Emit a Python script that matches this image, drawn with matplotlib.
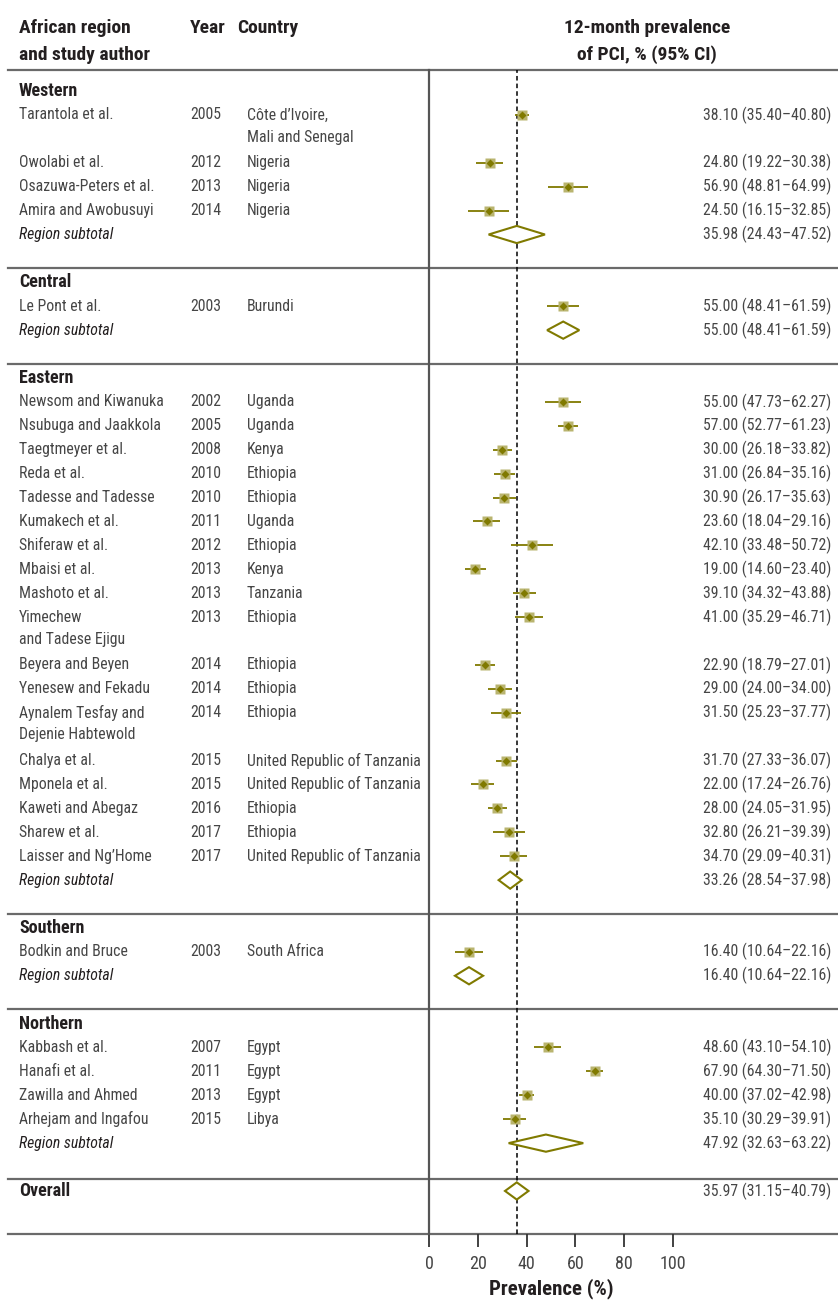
import matplotlib
matplotlib.use('Agg')
import matplotlib.pyplot as plt
from matplotlib import font_manager
from matplotlib.transforms import blended_transform_factory

# ---- data ----
regions = ['Western', 'Central', 'Eastern', 'Southern', 'Northern']

study_region = ['Western'] * 4 + ['Central'] + ['Eastern'] * 18 + ['Southern'] + ['Northern'] * 4
authors = [
    'Tarantola et al.', 'Owolabi et al.', 'Osazuwa-Peters et al.', 'Amira and Awobusuyi',
    'Le Pont et al.',
    'Newsom and Kiwanuka', 'Nsubuga and Jaakkola', 'Taegtmeyer et al.', 'Reda et al.',
    'Tadesse and Tadesse', 'Kumakech et al.', 'Shiferaw et al.', 'Mbaisi et al.',
    'Mashoto et al.', 'Yimechew\nand Tadese Ejigu', 'Beyera and Beyen', 'Yenesew and Fekadu',
    'Aynalem Tesfay and\nDejenie Habtewold', 'Chalya et al.', 'Mponela et al.',
    'Kaweti and Abegaz', 'Sharew et al.', 'Laisser and Ng\u2019Home',
    'Bodkin and Bruce',
    'Kabbash et al.', 'Hanafi et al.', 'Zawilla and Ahmed', 'Arhejam and Ingafou',
]
years = [2005, 2012, 2013, 2014,
         2003,
         2002, 2005, 2008, 2010, 2010, 2011, 2012, 2013, 2013, 2013, 2014, 2014, 2014,
         2015, 2015, 2016, 2017, 2017,
         2003,
         2007, 2011, 2013, 2015]
countries = [
    'C\u00f4te d\u2019Ivoire,\nMali and Senegal', 'Nigeria', 'Nigeria', 'Nigeria',
    'Burundi',
    'Uganda', 'Uganda', 'Kenya', 'Ethiopia', 'Ethiopia', 'Uganda', 'Ethiopia', 'Kenya',
    'Tanzania', 'Ethiopia', 'Ethiopia', 'Ethiopia', 'Ethiopia',
    'United Republic of Tanzania', 'United Republic of Tanzania', 'Ethiopia', 'Ethiopia',
    'United Republic of Tanzania',
    'South Africa',
    'Egypt', 'Egypt', 'Egypt', 'Libya',
]
est = [38.10, 24.80, 56.90, 24.50,
       55.00,
       55.00, 57.00, 30.00, 31.00, 30.90, 23.60, 42.10, 19.00, 39.10, 41.00, 22.90, 29.00,
       31.50, 31.70, 22.00, 28.00, 32.80, 34.70,
       16.40,
       48.60, 67.90, 40.00, 35.10]
lo = [35.40, 19.22, 48.81, 16.15,
      48.41,
      47.73, 52.77, 26.18, 26.84, 26.17, 18.04, 33.48, 14.60, 34.32, 35.29, 18.79, 24.00,
      25.23, 27.33, 17.24, 24.05, 26.21, 29.09,
      10.64,
      43.10, 64.30, 37.02, 30.29]
hi = [40.80, 30.38, 64.99, 32.85,
      61.59,
      62.27, 61.23, 33.82, 35.16, 35.63, 29.16, 50.72, 23.40, 43.88, 46.71, 27.01, 34.00,
      37.77, 36.07, 26.76, 31.95, 39.39, 40.31,
      22.16,
      54.10, 71.50, 42.98, 39.91]

sub_est = [35.98, 55.00, 33.26, 16.40, 47.92]
sub_lo = [24.43, 48.41, 28.54, 10.64, 32.63]
sub_hi = [47.52, 61.59, 37.98, 22.16, 63.22]

overall_est, overall_lo, overall_hi = 35.97, 31.15, 40.79

xticks = [0, 20, 40, 60, 80, 100]

# ---- font ----
available = {f.name for f in font_manager.fontManager.ttflist}
family = 'DejaVu Sans'
for cand in ['Liberation Sans Narrow', 'Roboto Condensed', 'Open Sans Condensed']:
    if cand in available:
        family = cand
        break
plt.rcParams['font.family'] = [family, 'DejaVu Sans']
if family == 'DejaVu Sans':
    plt.rcParams['font.stretch'] = 'condensed'

olive = '#807a00'
square_fc = '#b9b46f'
text_c = '#464646'
head_c = '#231f20'
rule_c = '#6a6a6a'

fig = plt.figure(figsize=(8.38, 13), dpi=100)
ax = fig.add_axes([429 / 838, 1 - 1234 / 1300, 409 / 838, (1234 - 70) / 1300])
ax.set_xlim(0, 409 / 2.44)
ax.set_ylim(47.8, -0.88)
trans = blended_transform_factory(fig.transFigure, ax.transData)

x_auth, x_year, x_country, x_val = 19 / 838, 190 / 838, 247 / 838, 831 / 838
fs = 11.3
line_gap = 0.93


def col_text(x, y, s, size=fs, color=text_c, weight='normal', style='normal'):
    for k, part in enumerate(str(s).split('\n')):
        ax.text(x, y + k * line_gap, part, transform=trans, va='center', ha='left',
                fontsize=size, color=color, fontweight=weight, fontstyle=style)


def val_text(y, e, l, h):
    ax.text(x_val, y, f'{e:.2f} ({l:.2f}\u2013{h:.2f})', transform=trans, ha='right', va='center',
            fontsize=fs, color=text_c)


def rule(y):
    ax.plot([0.010, 1], [y, y], transform=trans, color=rule_c, lw=1.6, clip_on=False, zorder=1)


def summary_diamond(y, e, l, h, half=0.36):
    ax.fill([l, e, h, e, l], [y, y - half, y, y + half, y], facecolor='white', edgecolor=olive,
            lw=1.5, zorder=4)


# ---- rows ----
row = 0
for r_i, reg in enumerate(regions):
    if r_i > 0:
        rule(row - 0.6)
    col_text(x_auth, row, reg, size=13, color=head_c, weight='bold')
    row += 1
    for i in range(len(authors)):
        if study_region[i] != reg:
            continue
        col_text(x_auth, row, authors[i])
        col_text(x_year, row, years[i])
        col_text(x_country, row, countries[i])
        val_text(row, est[i], lo[i], hi[i])
        ax.plot([lo[i], hi[i]], [row, row], color=olive, lw=1.3, zorder=3, solid_capstyle='butt')
        ax.plot(est[i], row, 's', ms=7.5, color=square_fc, mec='none', zorder=4)
        ax.plot(est[i], row, 'D', ms=4, color=olive, mec='none', zorder=5)
        row += max(str(authors[i]).count('\n'), str(countries[i]).count('\n')) + 1
    col_text(x_auth, row, 'Region subtotal', color=head_c, style='italic')
    val_text(row, sub_est[r_i], sub_lo[r_i], sub_hi[r_i])
    summary_diamond(row, sub_est[r_i], sub_lo[r_i], sub_hi[r_i])
    row += 2

rule(row - 0.5)
col_text(x_auth, row, 'Overall', size=13, color=head_c, weight='bold')
val_text(row, overall_est, overall_lo, overall_hi)
summary_diamond(row, overall_est, overall_lo, overall_hi)

# top and bottom rules
rule(-0.88)
rule(47.8)

# header
hdr = dict(fontsize=14, fontweight='bold', color=head_c, va='center', transform=trans)
ax.text(x_auth, -2.65, 'African region', ha='left', **hdr)
ax.text(x_auth, -1.52, 'and study author', ha='left', **hdr)
ax.text(x_year, -2.65, 'Year', ha='left', **hdr)
ax.text(237 / 838, -2.65, 'Country', ha='left', **hdr)
ax.text(647 / 838, -2.65, '12-month prevalence', ha='center', **hdr)
ax.text(647 / 838, -1.52, 'of PCI, % (95% CI)', ha='center', **hdr)

# reference line and axes
ax.axvline(overall_est, color='black', lw=1.1, ls=(0, (3, 2)), zorder=2)
for s in ['top', 'right', 'bottom']:
    ax.spines[s].set_visible(False)
ax.spines['left'].set_color('#555555')
ax.spines['left'].set_linewidth(1.6)
ax.set_yticks([])
ax.set_xticks(xticks)
ax.tick_params(axis='x', direction='out', length=9, width=1.3, color='#333333',
               labelsize=13, labelcolor=text_c, pad=6)
ax.set_xlabel('Prevalence (%)', fontsize=15, fontweight='bold', color=head_c)
ax.xaxis.set_label_coords(50 / (409 / 2.44), -0.038)

fig.savefig('out.png', dpi=100)
